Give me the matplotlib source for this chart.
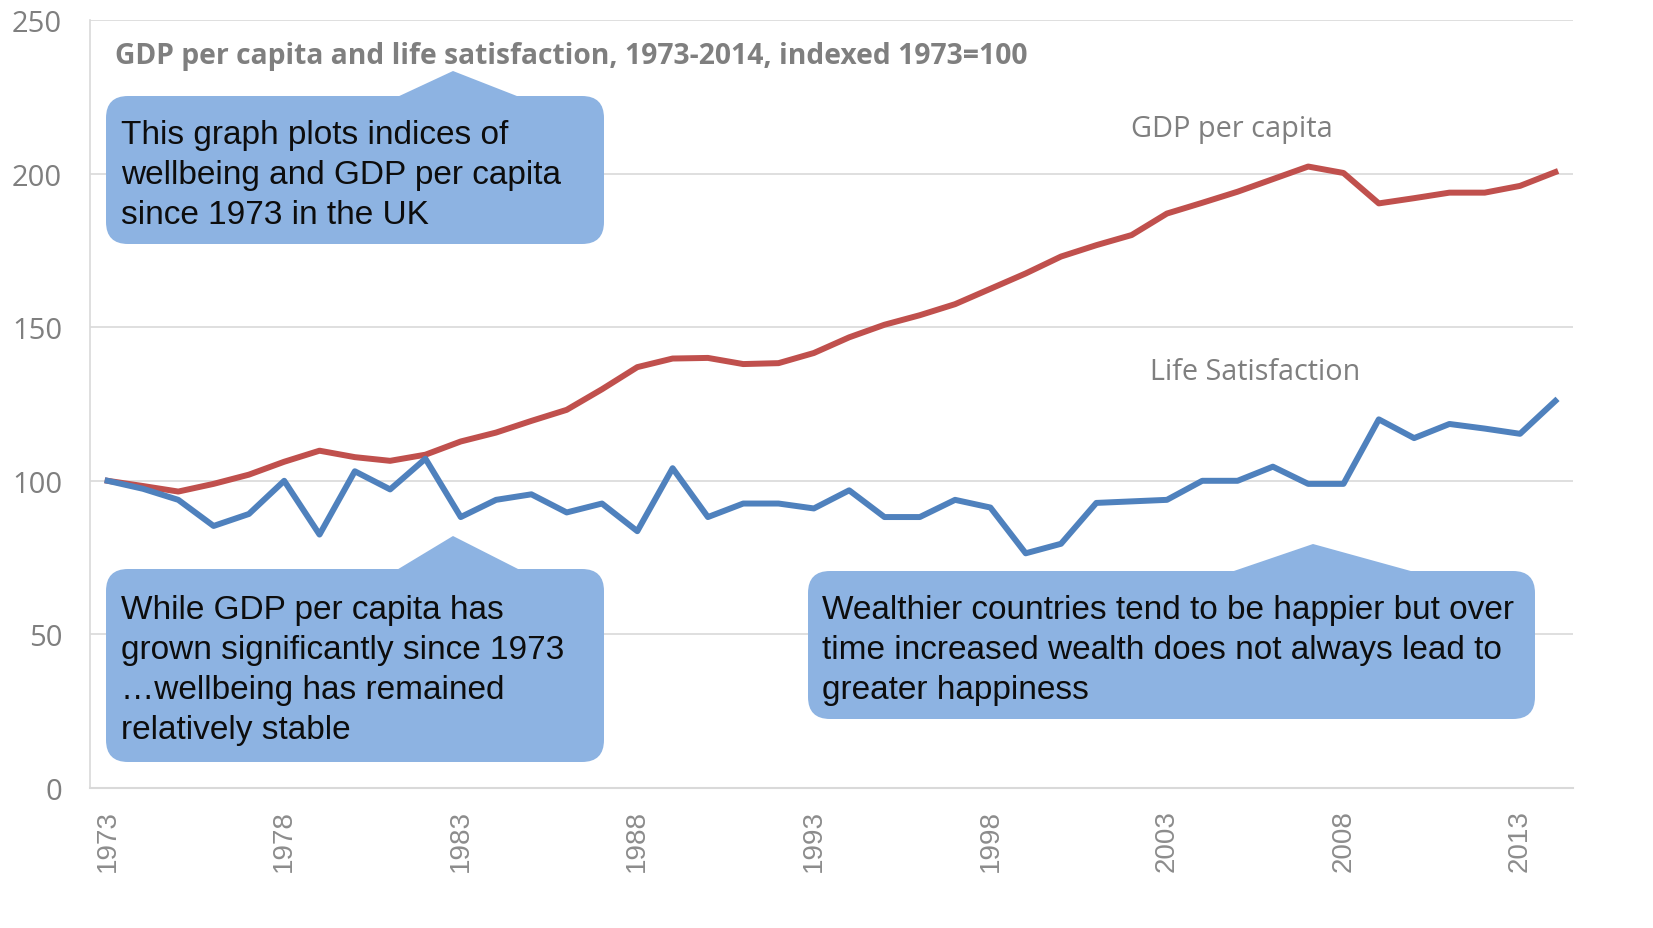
import matplotlib
matplotlib.use("Agg")
import matplotlib.pyplot as plt
from matplotlib.patches import FancyBboxPatch, Polygon

years = list(range(1973, 2015))
gdp_per_capita = [100, 98.3, 96.5, 99.0, 102.0, 106.2, 109.8, 107.7, 106.5, 108.5,
                  112.8, 115.7, 119.5, 123.1, 129.8, 137.0, 139.8, 140.0, 138.0, 138.3,
                  141.6, 146.7, 150.8, 153.9, 157.5, 162.5, 167.5, 173.0, 176.7, 180.0,
                  187.0, 190.5, 194.1, 198.2, 202.3, 200.2, 190.3, 192.0, 193.8, 193.8,
                  196.0, 200.5]
life_satisfaction = [100, 97.4, 93.8, 85.3, 89.2, 100.0, 82.5, 103.1, 97.2, 107.2,
                     88.2, 93.8, 95.6, 89.7, 92.6, 83.6, 104.1, 88.2, 92.6, 92.6,
                     91.0, 96.9, 88.2, 88.2, 93.8, 91.3, 76.4, 79.5, 92.8, 93.3,
                     93.8, 100.0, 100.0, 104.6, 99.0, 99.0, 120.0, 113.9, 118.5, 117.0,
                     115.3, 126.0]
tick_years = list(range(1973, 2015, 5))
y_ticks = [0, 50, 100, 150, 200, 250]

title = "GDP per capita and life satisfaction, 1973-2014, indexed 1973=100"
gdp_label = "GDP per capita"
ls_label = "Life Satisfaction"
box1_lines = ["This graph plots indices of", "wellbeing and GDP per capita", "since 1973 in the UK"]
box2_lines = ["While GDP per capita has", "grown significantly since 1973",
              "\u2026wellbeing has remained", "relatively stable"]
box3_lines = ["Wealthier countries tend to be happier but over",
              "time increased wealth does not always lead to", "greater happiness"]

W, H, DPI = 1653, 929, 100
fig = plt.figure(figsize=(W / DPI, H / DPI), dpi=DPI)
ax_l, ax_r, ax_t, ax_b = 90, 1573, 21, 789
ax = fig.add_axes([ax_l / W, 1 - ax_b / H, (ax_r - ax_l) / W, (ax_b - ax_t) / H])

RED = "#c0504d"
BLUE = "#4f81bd"
GRID = "#d9d9d9"
TXT = "#7f7f7f"
BOX = "#8db3e2"

ax.plot(years, gdp_per_capita, color=RED, lw=4.3, solid_joinstyle="round", zorder=3)
ax.plot(years, life_satisfaction, color=BLUE, lw=4.3, solid_joinstyle="round", zorder=3)

ax.set_xlim(1972.5, 2014.5)
ax.set_ylim(0, 250)
ax.set_yticks(y_ticks)
ax.set_xticks(tick_years)
ax.set_xticklabels([str(y) for y in tick_years], rotation=90, fontsize=20,
                   color="#8c8c8c", family="Liberation Sans")
ax.set_yticklabels([str(v) for v in y_ticks], fontsize=21, color=TXT, family="Open Sans")
ax.tick_params(axis="both", length=0)
ax.tick_params(axis="y", pad=20)
ax.tick_params(axis="x", pad=15)
ax.grid(axis="y", color=GRID, lw=1.2, zorder=0)
for s in ["top", "right"]:
    ax.spines[s].set_visible(False)
ax.spines["left"].set_color(GRID)
ax.spines["left"].set_linewidth(1.2)
ax.spines["bottom"].set_color(GRID)
ax.spines["bottom"].set_linewidth(1.5)
ax.set_axisbelow(True)

tr = fig.dpi_scale_trans


def P(x, y):
    return (x / DPI, (H - y) / DPI)


def callout(x0, y0, x1, y1, tri, lines, tx, ty0, pitch):
    box = FancyBboxPatch(P(x0, y1), (x1 - x0) / DPI, (y1 - y0) / DPI,
                         boxstyle="round,pad=0,rounding_size=0.22",
                         transform=tr, facecolor=BOX, edgecolor="none", zorder=5)
    fig.add_artist(box)
    poly = Polygon([P(*p) for p in tri], closed=True, transform=tr,
                   facecolor=BOX, edgecolor="none", zorder=5)
    fig.add_artist(poly)
    for i, line in enumerate(lines):
        fig.text(*P(tx, ty0 + i * pitch), line, transform=tr, ha="left", va="center",
                 fontsize=24, color="#0d0d0d", family="Liberation Sans", zorder=6)


callout(106, 97, 604, 245, [(395, 99), (453, 72), (522, 99)], box1_lines, 121, 136, 40)
callout(106, 570, 604, 763, [(395, 572), (453, 537), (522, 572)], box2_lines, 121, 611, 39.7)
callout(808, 572, 1535, 720, [(1228, 574), (1313, 545), (1418, 574)], box3_lines, 822, 611, 40)

fig.text(*P(115, 57), title, transform=tr, ha="left", va="center", fontsize=20.3,
         fontweight="bold", color=TXT, family="Open Sans")
fig.text(*P(1131, 130), gdp_label, transform=tr, ha="left", va="center", fontsize=20.8,
         color=TXT, family="Open Sans")
fig.text(*P(1150, 373), ls_label, transform=tr, ha="left", va="center", fontsize=20.7,
         color=TXT, family="Open Sans")

fig.savefig("out.png", dpi=DPI)
